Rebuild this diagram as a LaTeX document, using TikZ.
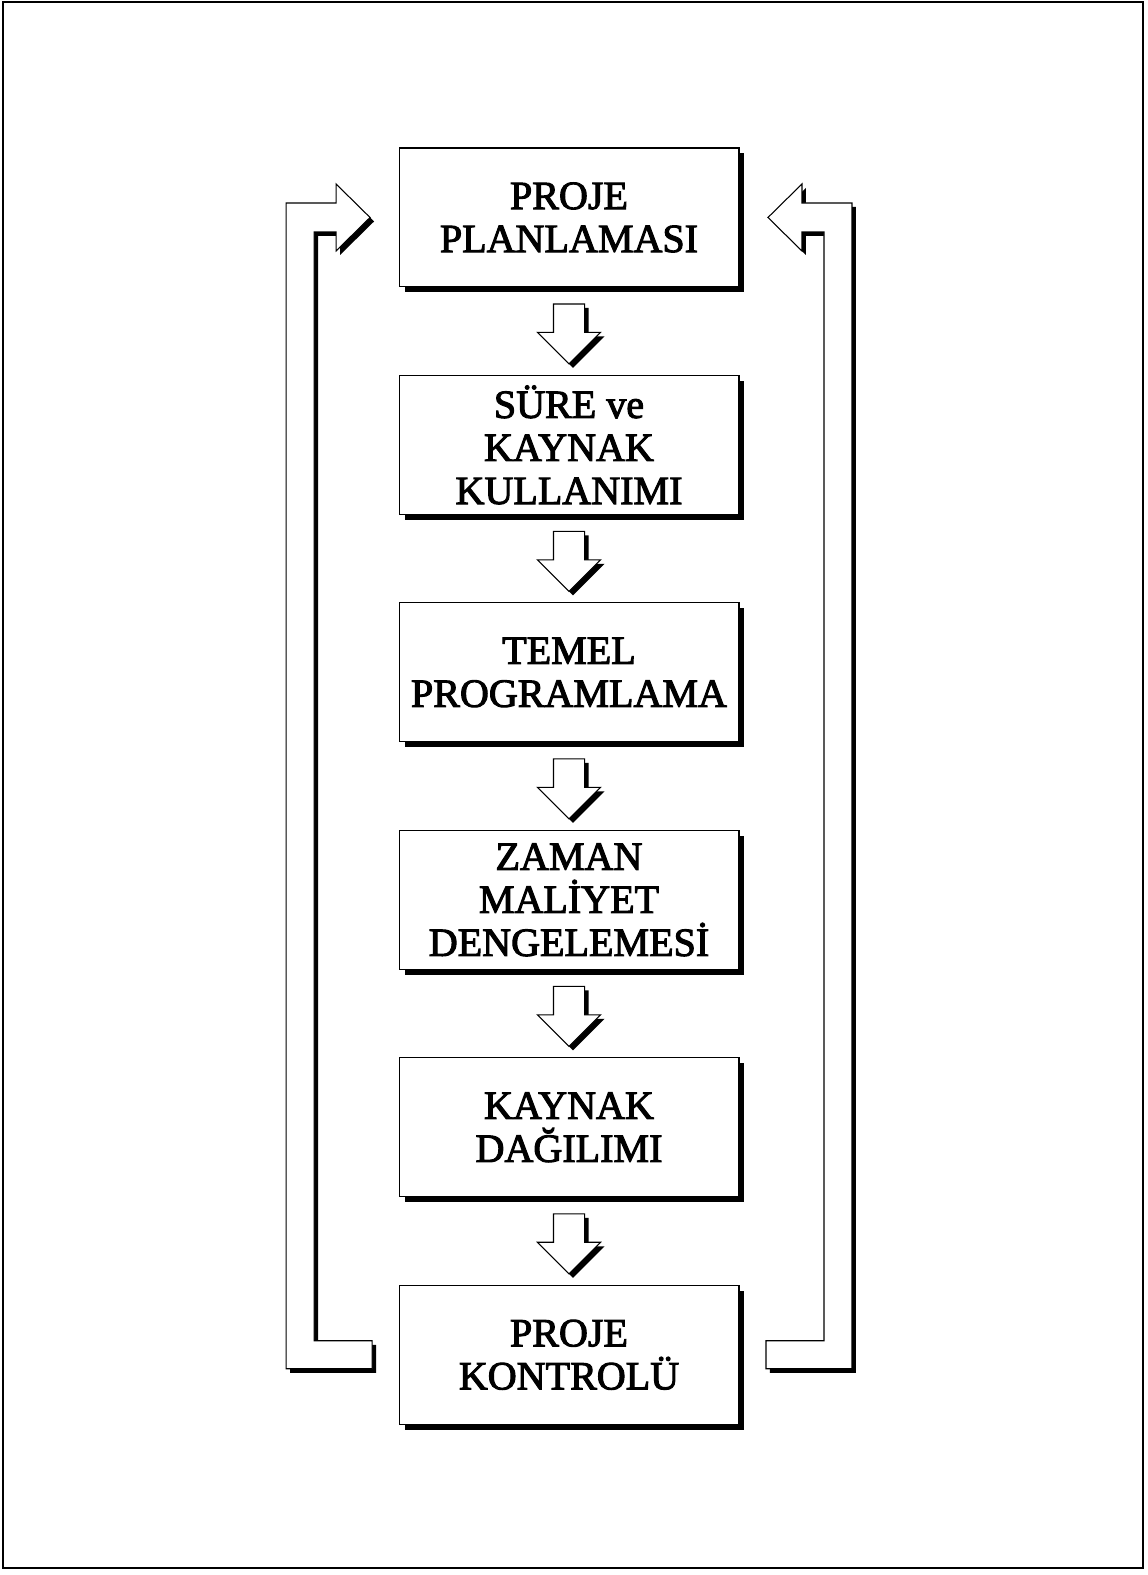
\documentclass[tikz,border=0pt]{standalone}
\usepackage{fontspec}
\setmainfont{Liberation Serif}[FakeBold=2.5]
\usetikzlibrary{positioning,calc,shadows,shapes.arrows}

\tikzset{
  stage/.style={draw, line width=0.6pt, fill=white, minimum width=6.8cm,
    minimum height=2.78cm, inner sep=2pt, outer sep=0pt, align=center,
    font=\fontsize{22.8}{24.5}\selectfont,
    drop shadow={shadow xshift=0.11cm, shadow yshift=-0.11cm, opacity=1, fill=black}},
  downblock/.style={single arrow, shape border rotate=270, draw, line width=0.6pt,
    fill=white, minimum height=1.2cm,
    single arrow head extend=0.32cm, single arrow head indent=0pt,
    inner sep=0.3cm, outer sep=0pt,
    drop shadow={shadow xshift=0.08cm, shadow yshift=-0.08cm, opacity=1, fill=black}},
  loopblock/.style={draw, line width=0.6pt, fill=white, line join=miter,
    drop shadow={shadow xshift=0.08cm, shadow yshift=-0.08cm, opacity=1, fill=black}}
}

\begin{document}
\begin{tikzpicture}[x=0.02cm, y=0.02cm, node distance=1.77cm]

    % Page size and frame
    \useasboundingbox (0,0) rectangle (1147,1575);
    \fill[white] (0,0) rectangle (1147,1575);
    \draw[line width=0.6pt] (3,7) rectangle (1143,1573);

    % Define the stages of the project
    \node[stage] (b1) at (569,1357.5) {PROJE\\PLANLAMASI};
    \node[stage, below=of b1] (b2) {SÜRE ve\\KAYNAK\\KULLANIMI};
    \node[stage, below=of b2] (b3) {TEMEL\\PROGRAMLAMA};
    \node[stage, below=of b3] (b4) {ZAMAN\\MALİYET\\DENGELEMESİ};
    \node[stage, below=of b4] (b5) {KAYNAK\\DAĞILIMI};
    \node[stage, below=of b5] (b6) {PROJE\\KONTROLÜ};

    % Add the block arrows between the stages
    \foreach \i [evaluate=\i as \j using int(\i+1)] in {1,...,5}
      \node[downblock] (a\i) at ($(b\i.south)!0.5!(b\j.north)+(0,5)$) {};

    % Feedback on the left side
    \draw[loopblock] ($(b6.west)+(-27,14)$) -| ($(b1.west)+(-85,-14.5)$)
      -- ++(22,0) -- ++(0,-19) -- ($(b1.west)+(-29,0)$) -- ++(-34,33.5)
      -- ++(0,-19) -- ++(-50,0) |- ($(b6.west)+(-27,-14)$) -- cycle;

    % Feedback on the right side
    \draw[loopblock] ($(b6.east)+(27,14)$) -| ($(b1.east)+(85,-14.5)$)
      -- ++(-22,0) -- ++(0,-19) -- ($(b1.east)+(29,0)$) -- ++(34,33.5)
      -- ++(0,-19) -- ++(50,0) |- ($(b6.east)+(27,-14)$) -- cycle;

\end{tikzpicture}
\end{document}
